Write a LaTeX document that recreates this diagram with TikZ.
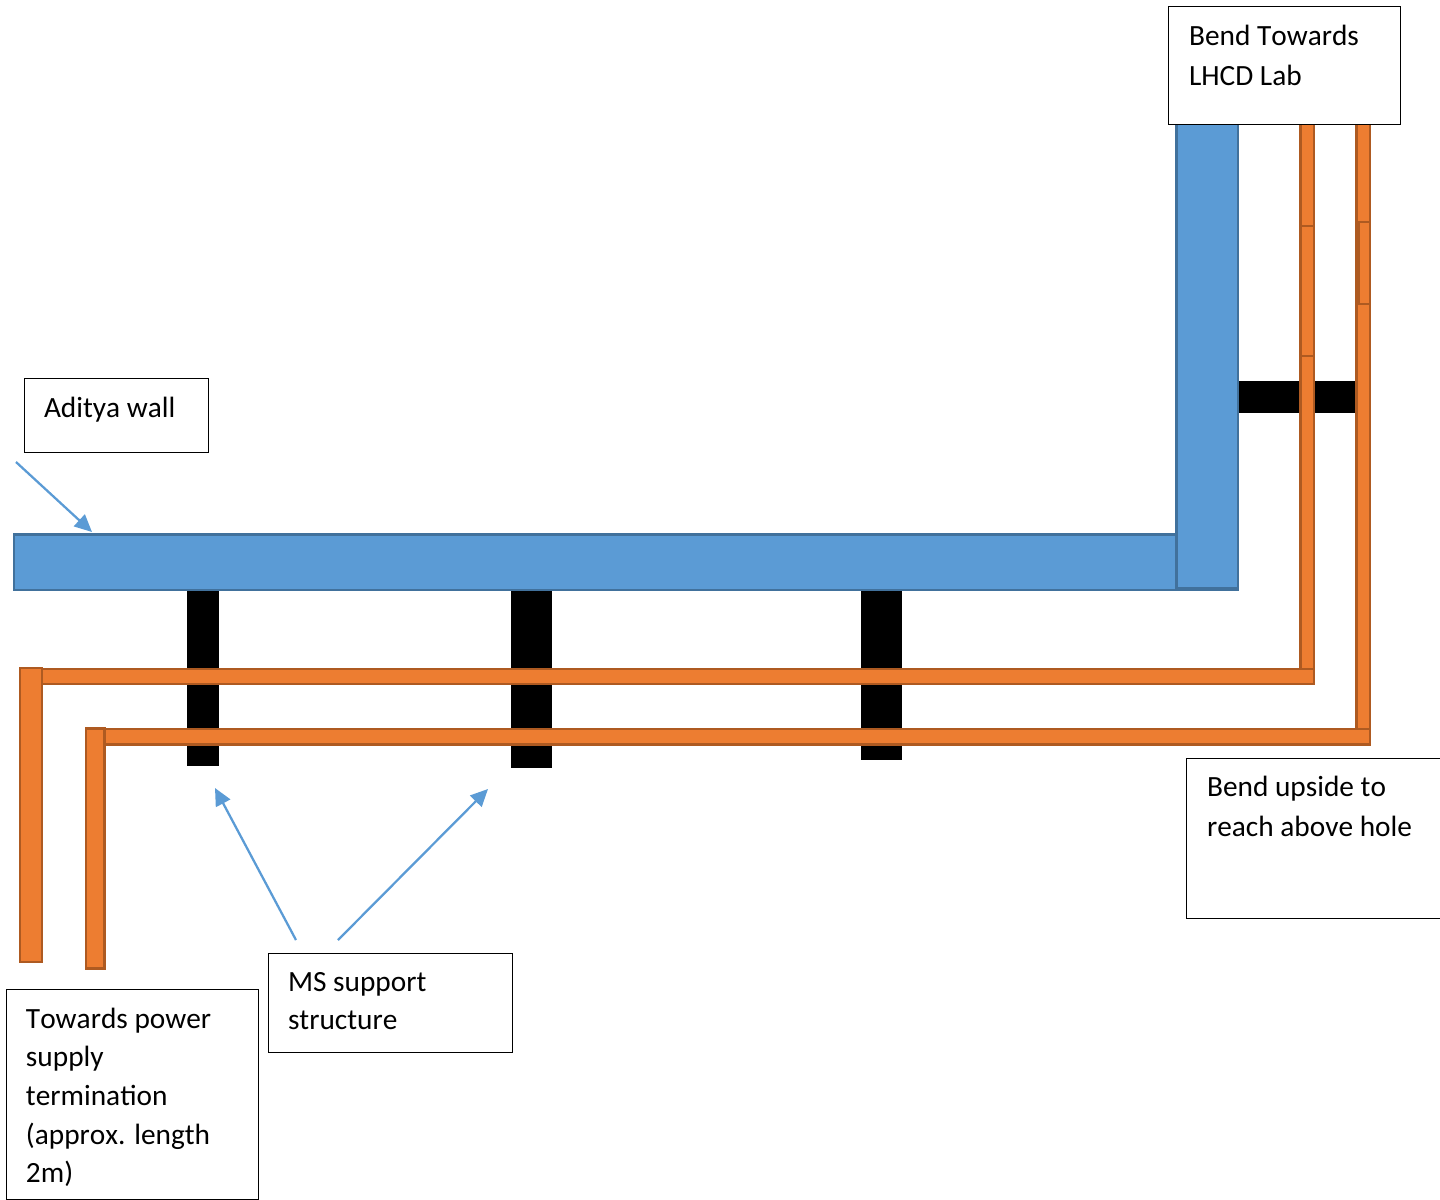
\documentclass[tikz,border=0pt]{standalone}
\usepackage{fontspec}
\setmainfont{Carlito}[Kerning=Off]
\usetikzlibrary{arrows.meta}
\definecolor{wallblue}{HTML}{5B9BD5}
\definecolor{walledge}{HTML}{41719C}
\definecolor{pipeorange}{HTML}{ED7D31}
\definecolor{pipeedge}{HTML}{AE5A21}
\newlength{\pxu}\setlength{\pxu}{0.75pt}
\tikzset{
  wall/.style={draw=walledge,fill=wallblue,line width=1.9pt},
  pipe/.style={draw=pipeedge,fill=pipeorange,line width=1.9pt},
  support/.style={fill=black,draw=none},
  textbox/.style={draw=black,fill=white,line width=0.7pt,anchor=north west,inner xsep=15pt,inner ysep=0pt,outer sep=0pt},
  pointer/.style={draw=wallblue,line width=1.7pt,-{Triangle[length=13pt,width=12pt]}}
}
\newcommand{\boxtext}[3]{\begin{minipage}[t][#2\pxu][t]{#1\pxu}\fontsize{22pt}{29pt}\selectfont\vspace{#3\pxu}\noindent\raggedright\strut\ignorespaces}
\newcommand{\boxend}{\strut\end{minipage}}
\begin{document}
\begin{tikzpicture}[x=0.75pt,y=-0.75pt]
\useasboundingbox (0,0) rectangle (1440,1200);
% supports
\fill[support] (187,590) rectangle (219,766);
\fill[support] (511,590) rectangle (552,768);
\fill[support] (861,590) rectangle (902,760);
\fill[support] (1236,381) rectangle (1357,413);
% wall
\draw[wall] (14,534.5) rectangle (1238,590);
\draw[wall] (1176.5,110) rectangle (1238,588);
% pipes
\draw[pipe] (1300.5,110) rectangle (1314,669);
\draw[pipe] (1300.5,226) rectangle (1314,356);
\draw[pipe] (1356.5,110) rectangle (1370,729);
\draw[pipe] (1358.5,222) rectangle (1370,304);
\draw[pipe] (42,669) rectangle (1314,684);
\draw[pipe] (104,729) rectangle (1370,744.5);
\draw[pipe] (20,668) rectangle (42,962);
\draw[pipe] (86,728.5) rectangle (104.5,968.5);
% text boxes
\node[textbox] (lab) at (1168,6) {\boxtext{192}{118}{12}\hspace{0.8pt}Bend Towards\\[1pt]\hspace*{0.8pt}LHCD Lab\boxend};
\node[textbox] (wallnote) at (24,378) {\boxtext{144}{74}{12}Aditya wall\boxend};
\node[textbox] (hole) at (1186,758) {\boxtext{219}{160}{11}\hspace{0.8pt}Bend upside to\\[1.5pt]\hspace*{0.8pt}reach above hole\boxend};
\node[textbox] (ms) at (268,953) {\boxtext{204}{99}{11}MS support\\structure\boxend};
\node[textbox] (power) at (6,989) {\boxtext{212}{210}{12}Towards power\\supply\\termination\\(approx. length\\2m)\boxend};
% pointers
\coordinate (a1) at (16,462); \coordinate (a2) at (92,532);
\coordinate (b1) at (296,940); \coordinate (b2) at (215,788);
\coordinate (c1) at (338,940); \coordinate (c2) at (488,789);
\draw[pointer] (a1) -- (a2);
\draw[pointer] (b1) -- (b2);
\draw[pointer] (c1) -- (c2);
\end{tikzpicture}
\end{document}
